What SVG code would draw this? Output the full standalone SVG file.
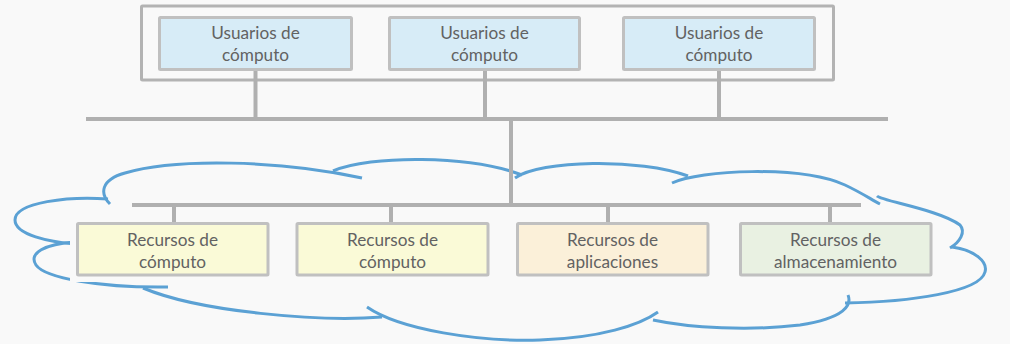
<svg xmlns="http://www.w3.org/2000/svg" width="1010" height="344" viewBox="0 0 1010 344">
  <style>
    .bg { fill: #f9f9f9; }
    .frame { fill: none; stroke: #b3b3b3; stroke-width: 3; }
    .box { stroke: #c0c0c0; stroke-width: 3; }
    .user { fill: #d7ecf7; }
    .compute { fill: #fafad7; }
    .apps { fill: #fbf0d9; }
    .storage { fill: #e9f1e2; }
    .wire { stroke: #b0b0b0; stroke-width: 4; fill: none; }
    .cloud path { fill: none; stroke: #5ba1d4; stroke-width: 3; stroke-linecap: butt; }
    text { font-family: Lato, "Liberation Sans", sans-serif; font-size: 17.2px; fill: #626262; text-anchor: middle; }
  </style>
  <defs>
    <!-- keep the cloud outline off the resource boxes, with a small margin -->
    <mask id="cloud-cut">
      <rect x="0" y="0" width="1010" height="344" fill="#fff"/>
      <rect x="70" y="216" width="205" height="66" fill="#000"/>
      <rect x="290" y="216" width="205" height="66" fill="#000"/>
      <rect x="510" y="216" width="205" height="66" fill="#000"/>
      <rect x="733" y="216" width="205" height="66" fill="#000"/>
    </mask>
  </defs>

  <rect class="bg" x="0" y="0" width="1010" height="344"/>

  <!-- cloud outline made of overlapping arcs -->
  <g id="cloud" class="cloud" mask="url(#cloud-cut)">
    <path d="M110,204 C100,194 100,180 125,173 C175,158 280,160 362,178"/>
    <path d="M333,171 C370,155 470,155 522,175"/>
    <path d="M515,178 C540,160 640,158 688,176"/>
    <path d="M672,183 C700,170 800,165 845,185 C862,193 872,200 880,204"/>
    <path d="M877,196 C882,201 940,210 960,225 C966,232 960,242 950,248"/>
    <path d="M952,247 C975,250 988,262 985,272 C980,292 910,302 845,303"/>
    <path d="M848,295 C852,305 845,318 800,325 C750,331 690,328 653,320"/>
    <path d="M658,312 C640,325 600,338 540,340 C480,342 400,330 367,307"/>
    <path d="M143,288 C200,312 320,322 382,317"/>
    <path d="M75,242 C45,244 28,253 36,265 C45,278 100,288 168,287"/>
    <path d="M108,199 C70,196 15,202 15,220 C15,235 50,242 75,244"/>
    <path d="M921,256.5 L926,256.5" stroke-width="1"/>
  </g>

  <!-- user group frame -->
  <rect class="frame" x="141.5" y="6" width="692" height="74" rx="1"/>

  <g id="connectors" class="wire">
    <line x1="255.5" y1="70" x2="255.5" y2="119"/>
    <line x1="485" y1="70" x2="485" y2="119"/>
    <line x1="719" y1="70" x2="719" y2="119"/>
    <line x1="86" y1="119" x2="888" y2="119"/>
    <line x1="511" y1="119" x2="511" y2="205"/>
    <line x1="132" y1="205" x2="861" y2="205"/>
    <line x1="174" y1="205" x2="174" y2="223"/>
    <line x1="391" y1="205" x2="391" y2="223"/>
    <line x1="608" y1="205" x2="608" y2="223"/>
    <line x1="830" y1="205" x2="830" y2="223"/>
  </g>

  <g id="user-1">
    <rect class="box user" x="159.5" y="17.5" width="192" height="52" rx="1"/>
    <text x="255.5" y="38.5">Usuarios de</text>
    <text x="255.5" y="61">cómputo</text>
  </g>
  <g id="user-2">
    <rect class="box user" x="389.5" y="17.5" width="190" height="52" rx="1"/>
    <text x="484.5" y="38.5">Usuarios de</text>
    <text x="484.5" y="61">cómputo</text>
  </g>
  <g id="user-3">
    <rect class="box user" x="623.5" y="17.5" width="191" height="52" rx="1"/>
    <text x="719" y="38.5">Usuarios de</text>
    <text x="719" y="61">cómputo</text>
  </g>

  <g id="compute-1">
    <rect class="box compute" x="77.5" y="223.5" width="190.5" height="51.5" rx="1"/>
    <text x="172.5" y="246">Recursos de</text>
    <text x="172.5" y="268">cómputo</text>
  </g>
  <g id="compute-2">
    <rect class="box compute" x="297" y="223.5" width="191" height="51.5" rx="1"/>
    <text x="392.5" y="246">Recursos de</text>
    <text x="392.5" y="268">cómputo</text>
  </g>
  <g id="applications">
    <rect class="box apps" x="517.5" y="223.5" width="190.5" height="51.5" rx="1"/>
    <text x="612.5" y="246">Recursos de</text>
    <text x="612.5" y="268">aplicaciones</text>
  </g>
  <g id="storage">
    <rect class="box storage" x="740.5" y="223.5" width="190.5" height="51.5" rx="1"/>
    <text x="835.5" y="246">Recursos de</text>
    <text x="835.5" y="268">almacenamiento</text>
  </g>
</svg>
